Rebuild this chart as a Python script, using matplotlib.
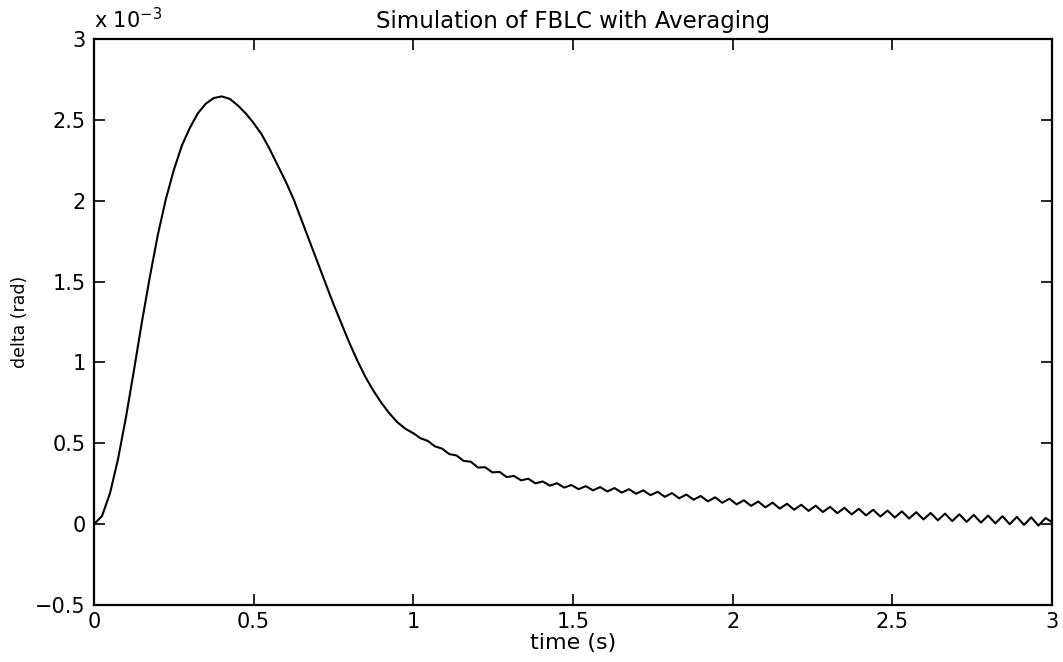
import matplotlib
matplotlib.use('Agg')
import matplotlib.pyplot as plt
from matplotlib.ticker import FuncFormatter

# values are in units of 1e-3 rad (axis shows "x 10^-3")
# smooth part of the response
t_rise = [0.0, 0.025, 0.05, 0.075, 0.1, 0.125, 0.15, 0.175, 0.2, 0.225,
          0.25, 0.275, 0.3, 0.325, 0.35, 0.375, 0.4, 0.425, 0.45, 0.475,
          0.5, 0.525, 0.55, 0.575, 0.6, 0.625, 0.65, 0.675, 0.7, 0.725,
          0.75, 0.775, 0.8, 0.825, 0.85, 0.875, 0.9, 0.925, 0.95, 0.975]
delta_rise = [0.0, 0.05, 0.19, 0.40, 0.66, 0.95, 1.25, 1.53, 1.79, 2.01,
              2.19, 2.34, 2.45, 2.54, 2.60, 2.635, 2.645, 2.63, 2.59, 2.54,
              2.48, 2.41, 2.32, 2.22, 2.12, 2.01, 1.88, 1.75, 1.62, 1.49,
              1.36, 1.24, 1.12, 1.01, 0.91, 0.825, 0.75, 0.685, 0.63, 0.59]

# tail with the small ripple: peaks and troughs
t_tail = [1.0, 1.0225, 1.045, 1.0675, 1.09, 1.1125, 1.135, 1.1575, 1.18, 1.2025,
          1.225, 1.2475, 1.27, 1.2925, 1.315, 1.3375, 1.36, 1.3825, 1.405, 1.4275,
          1.45, 1.4725, 1.495, 1.5175, 1.54, 1.5625, 1.585, 1.6075, 1.63, 1.6525,
          1.675, 1.6975, 1.72, 1.7425, 1.765, 1.7875, 1.81, 1.8325, 1.855, 1.8775,
          1.9, 1.9225, 1.945, 1.9675, 1.99, 2.0125, 2.035, 2.0575, 2.08, 2.1025,
          2.125, 2.1475, 2.17, 2.1925, 2.215, 2.2375, 2.26, 2.2825, 2.305, 2.3275,
          2.35, 2.3725, 2.395, 2.4175, 2.44, 2.4625, 2.485, 2.5075, 2.53, 2.5525,
          2.575, 2.5975, 2.62, 2.6425, 2.665, 2.6875, 2.71, 2.7325, 2.755, 2.7775,
          2.8, 2.8225, 2.845, 2.8675, 2.89, 2.9125, 2.935, 2.9575, 2.98, 3.0]
delta_tail = [0.562, 0.531, 0.515, 0.481, 0.467, 0.433, 0.425, 0.391, 0.386, 0.350,
              0.352, 0.320, 0.323, 0.291, 0.298, 0.271, 0.281, 0.252, 0.264, 0.238,
              0.253, 0.226, 0.242, 0.216, 0.235, 0.209, 0.229, 0.202, 0.223, 0.195,
              0.216, 0.188, 0.209, 0.179, 0.200, 0.169, 0.192, 0.160, 0.183, 0.151,
              0.174, 0.141, 0.166, 0.132, 0.157, 0.122, 0.148, 0.113, 0.140, 0.104,
              0.133, 0.096, 0.126, 0.089, 0.120, 0.082, 0.114, 0.075, 0.107, 0.068,
              0.101, 0.060, 0.095, 0.054, 0.089, 0.047, 0.084, 0.041, 0.079, 0.035,
              0.074, 0.029, 0.069, 0.024, 0.065, 0.019, 0.061, 0.014, 0.057, 0.010,
              0.053, 0.005, 0.049, 0.000, 0.045, -0.005, 0.042, -0.009, 0.038, 0.012]

x_ticks = [0, 0.5, 1, 1.5, 2, 2.5, 3]
y_ticks = [-0.5, 0, 0.5, 1, 1.5, 2, 2.5, 3]

plt.rcParams['font.family'] = ['DejaVu Sans']

fig = plt.figure(figsize=(10.63, 6.62), dpi=100)
ax = fig.add_axes([94 / 1063, 1 - 605 / 662, (1052 - 94) / 1063, (605 - 39) / 662])

t_all = t_rise + t_tail
d_all = delta_rise + delta_tail
ax.plot(t_all, d_all, color='black', linewidth=1.5,
        solid_joinstyle='round', solid_capstyle='round')

ax.set_xlim(0, 3)
ax.set_ylim(-0.5, 3)
ax.set_xticks(x_ticks)
ax.set_yticks(y_ticks)
fmt = FuncFormatter(lambda v, pos: ('%g' % v).replace('-', '\u2212'))
ax.xaxis.set_major_formatter(fmt)
ax.yaxis.set_major_formatter(fmt)
ax.tick_params(direction='in', length=8, width=1.2, top=True, right=True,
               labelsize=15, colors='black')
ax.tick_params(axis='x', pad=5)
ax.tick_params(axis='y', pad=6)
for sp in ax.spines.values():
    sp.set_linewidth(1.6)

ax.set_title('Simulation of FBLC with Averaging', fontsize=16.5, pad=8)
ax.set_xlabel('time (s)', fontsize=16, labelpad=1)
ax.set_ylabel('delta (rad)', fontsize=12.5, labelpad=4)
ax.text(0.0, 1.012, 'x 10$^{\u22123}$', transform=ax.transAxes,
        ha='left', va='bottom', fontsize=15)

fig.savefig('out.png', dpi=100)
